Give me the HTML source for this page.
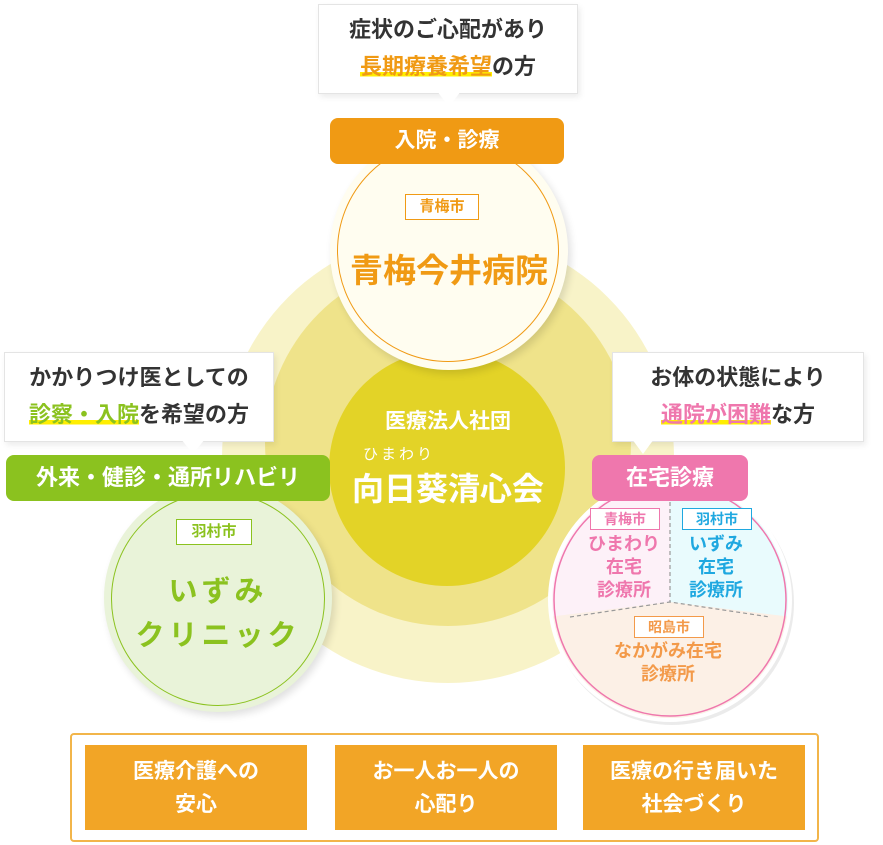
<!DOCTYPE html>
<html><head><meta charset="utf-8"><style>
body{margin:0;width:883px;height:845px;position:relative;background:#fff;overflow:hidden;font-family:"Liberation Sans","Noto Sans CJK JP",sans-serif;font-weight:bold}
.a{position:absolute}
.c{position:absolute;border-radius:50%}
.t{position:absolute;text-align:center;white-space:nowrap}
.box{position:absolute;background:#fff;border:1px solid #e4e4e4;box-shadow:2px 3px 6px rgba(0,0,0,.08);color:#333;font-size:22px;text-align:center;line-height:37px;white-space:nowrap}
.tag{position:absolute;border-radius:8px;color:#fff;font-size:21px;text-align:center;white-space:nowrap}
.city{position:absolute;background:#fff;font-size:15px;text-align:center;line-height:24px}
.hl{background:linear-gradient(transparent 72%,#ffee00 72%,#ffee00 90%,transparent 90%)}
.bb{position:absolute;top:745px;width:222px;height:85px;background:#f2a526;color:#fff;font-size:21px;text-align:center;line-height:33px;display:flex;align-items:center;justify-content:center}
</style></head><body>
<div class="c" style="left:222px;top:231px;width:452px;height:452px;background:#f8f3c8"></div>
<div class="c" style="left:265px;top:260px;width:366px;height:366px;background:#efe38a"></div>
<div class="c" style="left:329px;top:350px;width:236px;height:236px;background:#e3d327"></div>
<div class="t" style="left:324px;width:248px;top:405px;color:#fff;font-size:21px">医療法人社団</div>
<div class="t" style="left:344px;width:110px;top:443px;color:#fff;font-size:15px;letter-spacing:3px;font-weight:normal">ひまわり</div>
<div class="t" style="left:324px;width:248px;top:464px;color:#fff;font-size:32px">向日葵清心会</div>

<!-- top -->
<div class="c" style="left:330px;top:132px;width:238px;height:238px;background:#fffdf0;box-shadow:3px 4px 8px rgba(0,0,0,.12)"></div>
<div class="c" style="left:337px;top:140px;width:222px;height:222px;border:1.5px solid #f09a14;box-sizing:border-box"></div>
<div class="tag" style="left:330px;top:118px;width:234px;height:46px;line-height:46px;background:#f09a14">入院・診療</div>
<div class="city" style="left:405px;top:194px;width:72px;border:1px solid #f09a14;color:#f09a14">青梅市</div>
<div class="t" style="left:330px;width:238px;top:244px;color:#f09a14;font-size:33px">青梅今井病院</div>
<div class="box" style="left:318px;top:4px;width:258px;height:82px;padding-top:6px">症状のご心配があり<br><span class="hl" style="color:#f09a14">長期療養希望</span>の方</div>
<div class="a" style="left:437px;top:91px;width:0;height:0;border-left:12px solid transparent;border-right:12px solid transparent;border-top:16px solid #fff"></div>

<!-- left -->
<div class="c" style="left:104px;top:484px;width:228px;height:228px;background:#e9f3d9;box-shadow:3px 4px 8px rgba(0,0,0,.12)"></div>
<div class="c" style="left:111px;top:492px;width:214px;height:214px;border:1.5px solid #8bc21f;box-sizing:border-box"></div>
<div class="tag" style="left:6px;top:455px;width:324px;height:46px;line-height:46px;background:#8bc21f;font-size:22px">外来・健診・通所リハビリ</div>
<div class="city" style="left:176px;top:519px;width:74px;border:1px solid #8bc21f;color:#8bc21f">羽村市</div>
<div class="t" style="left:104px;width:228px;top:570px;color:#8bc21f;font-size:29px;line-height:44px;letter-spacing:4px">いずみ<br>クリニック</div>
<div class="box" style="left:4px;top:352px;width:268px;height:82px;padding-top:6px">かかりつけ医としての<br><span class="hl" style="color:#8bc21f">診察・入院</span>を希望の方</div>
<div class="a" style="left:181px;top:439px;width:0;height:0;border-left:12px solid transparent;border-right:12px solid transparent;border-top:15px solid #fff"></div>

<!-- right -->
<svg class="a" style="left:540px;top:470px" width="260" height="260">
<defs><clipPath id="cp"><circle cx="130" cy="130" r="118"/></clipPath></defs>
<circle cx="132" cy="133" r="122" fill="#000" opacity=".08"/>
<circle cx="130" cy="130" r="122" fill="#fff"/>
<g clip-path="url(#cp)">
<rect x="0" y="0" width="130" height="260" fill="#fdf1f8"/>
<rect x="130" y="0" width="130" height="260" fill="#e9fbfd"/>
<polygon points="0,148 130,132 260,148 260,260 0,260" fill="#fcf0e6"/>
</g>
<circle cx="130" cy="130" r="116" fill="none" stroke="#ef77ad" stroke-width="1.5"/>
<line x1="130" y1="32" x2="130" y2="132" stroke="#999" stroke-dasharray="4,3" stroke-width="1.2"/>
<polyline points="30,147 130,132 230,147" fill="none" stroke="#999" stroke-dasharray="4,3" stroke-width="1.2"/>
</svg>
<div class="tag" style="left:592px;top:455px;width:156px;height:46px;line-height:46px;background:#ef77ad;font-size:22px">在宅診療</div>
<div class="city" style="left:590px;top:508px;width:68px;border:1px solid #ef77ad;color:#ef77ad;font-size:14px;line-height:20px">青梅市</div>
<div class="t" style="left:574px;width:100px;top:533px;color:#ef77ad;font-size:18px;line-height:23px">ひまわり<br>在宅<br>診療所</div>
<div class="city" style="left:682px;top:508px;width:68px;border:1px solid #1fa8e0;color:#1fa8e0;font-size:14px;line-height:20px">羽村市</div>
<div class="t" style="left:666px;width:100px;top:533px;color:#1fa8e0;font-size:18px;line-height:23px">いずみ<br>在宅<br>診療所</div>
<div class="city" style="left:634px;top:616px;width:68px;border:1px solid #f39a4a;color:#f39a4a;font-size:14px;line-height:20px">昭島市</div>
<div class="t" style="left:590px;width:156px;top:640px;color:#f39a4a;font-size:18px;line-height:23px">なかがみ在宅<br>診療所</div>
<div class="box" style="left:612px;top:352px;width:250px;height:82px;padding-top:6px">お体の状態により<br><span class="hl" style="color:#ef77ad">通院が困難</span>な方</div>
<div class="a" style="left:632px;top:439px;width:0;height:0;border-left:11px solid transparent;border-right:11px solid transparent;border-top:15px solid #fff"></div>

<!-- bottom -->
<div class="a" style="left:70px;top:733px;width:749px;height:109px;border:2px solid #f2b54a;border-radius:4px;box-sizing:border-box"></div>
<div class="bb" style="left:85px">医療介護への<br>安心</div>
<div class="bb" style="left:335px">お一人お一人の<br>心配り</div>
<div class="bb" style="left:583px">医療の行き届いた<br>社会づくり</div>
</body></html>
